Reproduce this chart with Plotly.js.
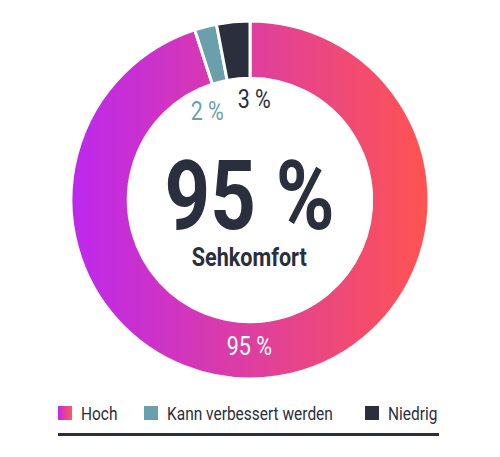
<!DOCTYPE html>
<html><head><meta charset="utf-8">
<script src="https://cdn.plot.ly/plotly-3.0.1.min.js"></script>
<style>html,body{margin:0;padding:0;background:#fff}#chart{width:500px;height:457px}</style>
</head><body><div id="chart"></div>
<script>
const labels = ['Hoch', 'Kann verbessert werden', 'Niedrig'];
const values = [95, 2, 3];
const colors = ['#de3e9f', '#6aa0ac', '#2b2e3c'];
const centerValue = '95 %';
const centerLabel = 'Sehkomfort';

const W = 500, H = 457;
const px = x => x / W, py = y => 1 - y / H;
const FONT = 'Roboto, "Liberation Sans", sans-serif';
const DARK = '#2b2e3c';

const trace = {
  type: 'pie', labels: labels, values: values, sort: false, direction: 'clockwise', rotation: 0,
  hole: 0.68, textinfo: 'none', hoverinfo: 'none', showlegend: false,
  marker: {colors: colors, line: {color: '#ffffff', width: 3}},
  domain: {x: [px(71), px(429)], y: [py(379), py(21)]}
};

// slice value labels
const sliceLabelPos = [[249, 346, '#ffffff'], [207.5, 111, colors[1]], [254.5, 99, colors[2]]];
const annotations = values.map((v, i) => ({
  x: px(sliceLabelPos[i][0]), y: py(sliceLabelPos[i][1]), xref: 'paper', yref: 'paper',
  text: v + ' %', showarrow: false, xanchor: 'center', yanchor: 'middle',
  font: {family: FONT, size: 25, color: sliceLabelPos[i][2]}
}));
annotations.push({x: px(249), y: py(196), xref: 'paper', yref: 'paper', text: '<b>' + centerValue + '</b>',
  showarrow: false, xanchor: 'center', yanchor: 'middle', font: {family: FONT, size: 96, color: DARK}});
annotations.push({x: px(249), y: py(257), xref: 'paper', yref: 'paper', text: '<b>' + centerLabel + '</b>',
  showarrow: false, xanchor: 'center', yanchor: 'middle', font: {family: FONT, size: 26, color: DARK}});

// custom legend
const legSwatchX = [58, 144, 365];
const shapes = [];
labels.forEach((l, i) => {
  shapes.push({type: 'rect', xref: 'paper', yref: 'paper', x0: px(legSwatchX[i]), x1: px(legSwatchX[i] + 14),
    y0: py(420), y1: py(406), fillcolor: colors[i], line: {width: 0}});
  annotations.push({x: px(legSwatchX[i] + 21), y: py(413), xref: 'paper', yref: 'paper', text: l,
    showarrow: false, xanchor: 'left', yanchor: 'middle', font: {family: FONT, size: 18, color: DARK}});
});
shapes.push({type: 'line', xref: 'paper', yref: 'paper', x0: px(58), x1: px(439), y0: py(434.5), y1: py(434.5),
  line: {color: DARK, width: 3}});

const layout = {width: W, height: H, margin: {l: 0, r: 0, t: 0, b: 0}, paper_bgcolor: '#fff',
  showlegend: false, annotations: annotations, shapes: shapes};

Plotly.newPlot('chart', [trace], layout, {displayModeBar: false, staticPlot: true}).then(gd => {
  const svg = gd.querySelector('svg.main-svg');
  const ns = 'http://www.w3.org/2000/svg';
  let defs = svg.querySelector('defs');
  if (!defs) { defs = document.createElementNS(ns, 'defs'); svg.insertBefore(defs, svg.firstChild); }
  function grad(id, c1, c2) {
    const g = document.createElementNS(ns, 'linearGradient');
    g.setAttribute('id', id); g.setAttribute('x1', '0'); g.setAttribute('x2', '1');
    g.setAttribute('y1', '0'); g.setAttribute('y2', '0');
    [[0, c1], [1, c2]].forEach(([o, c]) => {
      const s = document.createElementNS(ns, 'stop');
      s.setAttribute('offset', o); s.setAttribute('stop-color', c); g.appendChild(s);
    });
    defs.appendChild(g);
  }
  grad('hochGrad', '#bd28ee', '#ff5450');
  grad('hochGradLeg', '#c22ae6', '#ff5a52');
  const slice = gd.querySelectorAll('.slice path.surface')[0];
  if (slice) slice.style.fill = 'url(#hochGrad)';
  const sh = gd.querySelectorAll('.shapelayer path')[0];
  if (sh) sh.style.fill = 'url(#hochGradLeg)';
  // condensed look: squeeze annotation text horizontally around its anchor
  gd.querySelectorAll('g.annotation').forEach((g, i) => {
    const t = g.querySelector('text.annotation-text');
    if (!t) return;
    const bb = t.getBBox();
    const a = layout.annotations[i];
    const s = a.font.size > 50 ? 0.83 : (a.font.size > 20 && a.text.indexOf('<b>') === 0 ? 0.83 : 0.86);
    const ax = a.xanchor === 'left' ? bb.x : bb.x + bb.width / 2;
    const prev = t.getAttribute('transform') || '';
    t.setAttribute('transform', prev + ' translate(' + ax + ',0) scale(' + s + ',1) translate(' + (-ax) + ',0)');
  });
});
</script></body></html>
